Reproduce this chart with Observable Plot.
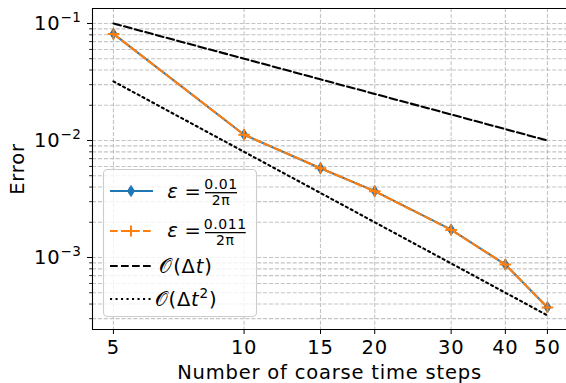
<!DOCTYPE html>
<html><head><meta charset="utf-8">
<script src="https://cdn.jsdelivr.net/npm/d3@7"></script>
<script src="https://cdn.jsdelivr.net/npm/@observablehq/plot@0.6"></script>
<style>
html,body{margin:0;padding:0;background:#fff;}
#chart{position:relative;width:566px;height:383px;overflow:hidden;}
#chart svg{display:block;}
</style></head><body><div id="chart"></div>
<script>
// ---- data ----
const steps = [5, 10, 15, 20, 30, 40, 50];
const errorEps001 = [0.0816, 0.0112, 0.0058, 0.00369, 0.00173, 0.00087, 0.000376];
const errorEps0011 = [0.0814, 0.0112, 0.0058, 0.00368, 0.00172, 0.00087, 0.000374];
const orderOne = [0.1, 0.05, 0.0333, 0.025, 0.0167, 0.0125, 0.01];
const orderTwo = [0.032, 0.008, 0.00356, 0.002, 0.00089, 0.0005, 0.00032];
const xTicks = [5, 10, 15, 20, 30, 40, 50];
const yMajorTicks = [0.001, 0.01, 0.1];
const yMinorTicks = [0.0003, 0.0004, 0.0005, 0.0006, 0.0007, 0.0008, 0.0009,
  0.002, 0.003, 0.004, 0.005, 0.006, 0.007, 0.008, 0.009,
  0.02, 0.03, 0.04, 0.05, 0.06, 0.07, 0.08, 0.09];
const xDomain = [4.474, 55.33];
const yDomain = [0.0002424, 0.1343];
const xLabel = "Number of coarse time steps";
const yLabel = "Error";
const epsNumerators = ["0.01", "0.011"];
const epsDenominator = "2π";

const rows = ys => steps.map((x, i) => ({x, y: ys[i]}));

const BLUE = "#1f77b4", ORANGE = "#ff7f0e";
const FONT = "DejaVu Sans";
const FS = 19.5, LS = "0.8px";

const thinDiamond = {draw(ctx, size) {
  const r = Math.sqrt(size / Math.PI), w = r * 0.64;
  ctx.moveTo(0, -r); ctx.lineTo(w, 0); ctx.lineTo(0, r); ctx.lineTo(-w, 0); ctx.closePath();
}};
const plusSym = {draw(ctx, size) {
  const r = Math.sqrt(size / Math.PI);
  ctx.moveTo(-r * 1.05, 0); ctx.lineTo(r * 1.05, 0); ctx.moveTo(0, -r); ctx.lineTo(0, r);
}};

const gridStyle = {stroke: "#b0b0b0", strokeOpacity: 0.75, strokeWidth: 1.1, strokeDasharray: "4.1,1.8"};

const svg = Plot.plot({
  width: 566, height: 383,
  marginLeft: 92, marginRight: 0, marginTop: 8, marginBottom: 54,
  style: {fontFamily: FONT, fontSize: FS + "px", color: "#000", background: "#fff", letterSpacing: LS},
  x: {type: "log", domain: xDomain},
  y: {type: "log", domain: yDomain},
  marks: [
    Plot.gridX(xTicks, gridStyle),
    Plot.gridY(yMajorTicks.concat(yMinorTicks), gridStyle),
    Plot.line(rows(orderOne), {x: "x", y: "y", stroke: "#000", strokeWidth: 2.1, strokeDasharray: "7.7,3.3"}),
    Plot.line(rows(orderTwo), {x: "x", y: "y", stroke: "#000", strokeWidth: 2.1, strokeDasharray: "2.1,3.4"}),
    Plot.line(rows(errorEps001), {x: "x", y: "y", stroke: BLUE, strokeWidth: 2.1}),
    Plot.dot(rows(errorEps001), {x: "x", y: "y", symbol: thinDiamond, r: 5.5, fill: BLUE, stroke: BLUE, strokeWidth: 1}),
    Plot.line(rows(errorEps0011), {x: "x", y: "y", stroke: ORANGE, strokeWidth: 2.1, strokeDasharray: "7.7,3.3"}),
    Plot.dot(rows(errorEps0011), {x: "x", y: "y", symbol: plusSym, r: 5.5, fill: "none", stroke: ORANGE, strokeWidth: 2}),
    Plot.ruleX([xDomain[0]], {stroke: "#000", strokeWidth: 1.1}),
    Plot.ruleY(yDomain, {stroke: "#000", strokeWidth: 1.1}),
    Plot.axisX({ticks: xTicks, tickFormat: d => String(d), tickSize: 5, tickPadding: 6, fontSize: FS,
      label: xLabel, labelAnchor: "center", labelOffset: 49, labelArrow: "none"}),
    Plot.axisY({ticks: yMinorTicks, tickFormat: () => "", tickSize: 2.8, strokeWidth: 0.85, label: null}),
    Plot.axisY({ticks: yMajorTicks, tickFormat: d => "10^" + Math.round(Math.log10(d)), tickSize: 5, tickPadding: 6, fontSize: FS,
      label: yLabel, labelAnchor: "center", labelOffset: 82, labelArrow: "none"})
  ]
});

document.getElementById("chart").appendChild(svg);
const root = d3.select(svg);

// superscript exponents for the y tick labels
root.selectAll("text").each(function() {
  const m = /^10\^(-?\d+)$/.exec(this.textContent);
  if (!m) return;
  const s = d3.select(this);
  s.text(null);
  s.append("tspan").text("10");
  s.append("tspan").attr("dy", -8).attr("font-size", "13.5px").attr("letter-spacing", "0.6px").text(m[1].replace("-", "\u2212"));
});

// ---- legend ----
const lg = root.append("g").attr("font-family", FONT).attr("letter-spacing", LS).attr("font-size", FS + "px");
lg.append("rect").attr("x", 103.5).attr("y", 169.5).attr("width", 153).attr("height", 147).attr("rx", 4)
  .attr("fill", "#fff").attr("fill-opacity", 0.8).attr("stroke", "#cccccc").attr("stroke-width", 1.1);
const hx0 = 110, hx1 = 153, hxm = 131;
const handles = [
  {y: 191, stroke: BLUE, dash: null, sym: thinDiamond, fill: BLUE, sw: 1},
  {y: 231, stroke: ORANGE, dash: "7.7,3.3", sym: plusSym, fill: "none", sw: 2},
  {y: 266, stroke: "#000", dash: "7.7,3.3"},
  {y: 299, stroke: "#000", dash: "2.1,3.4"}
];
handles.forEach(h => {
  lg.append("line").attr("x1", hx0).attr("x2", hx1).attr("y1", h.y).attr("y2", h.y)
    .attr("stroke", h.stroke).attr("stroke-width", 2.1).attr("stroke-dasharray", h.dash);
  if (h.sym) lg.append("path").attr("transform", `translate(${hxm},${h.y})`)
    .attr("d", d3.symbol(h.sym, 5.5 * 5.5 * Math.PI)())
    .attr("fill", h.fill).attr("stroke", h.stroke).attr("stroke-width", h.sw);
});
// epsilon labels with fractions
const fr = [{base: 197.5, bar: 192.7, x0: 205, x1: 237, num: 189, den: 205.3},
            {base: 237, bar: 232.7, x0: 205, x1: 245.7, num: 229, den: 245.3}];
fr.forEach((f, i) => {
  lg.append("text").attr("x", 173).attr("y", f.base).attr("text-anchor", "middle")
    .attr("font-style", "italic").text("ε");
  lg.append("text").attr("x", 193).attr("y", f.base).attr("text-anchor", "middle").text("=");
  lg.append("line").attr("x1", f.x0).attr("x2", f.x1).attr("y1", f.bar).attr("y2", f.bar)
    .attr("stroke", "#000").attr("stroke-width", 1.3);
  const cx = (f.x0 + f.x1) / 2;
  lg.append("text").attr("x", cx).attr("y", f.num).attr("text-anchor", "middle").attr("font-size", "14px")
    .attr("letter-spacing", "0.6px").text(epsNumerators[i]);
  lg.append("text").attr("x", cx).attr("y", f.den).attr("text-anchor", "middle").attr("font-size", "14px")
    .attr("letter-spacing", "0.6px").text(epsDenominator);
});
// order labels (one flowing text each; the script O glyph draws left of its origin)
[{y: 272.5, sq: false}, {y: 305.5, sq: true}].forEach(o => {
  const t = lg.append("text").attr("x", 186).attr("y", o.y);
  t.append("tspan").text("𝒪(Δ");
  t.append("tspan").attr("font-style", "italic").text("t");
  if (o.sq) {
    t.append("tspan").attr("dy", -8).attr("font-size", "13.5px").text("2");
    t.append("tspan").attr("dy", 8).text(")");
  } else {
    t.append("tspan").text(")");
  }
});
</script>
</body></html>
